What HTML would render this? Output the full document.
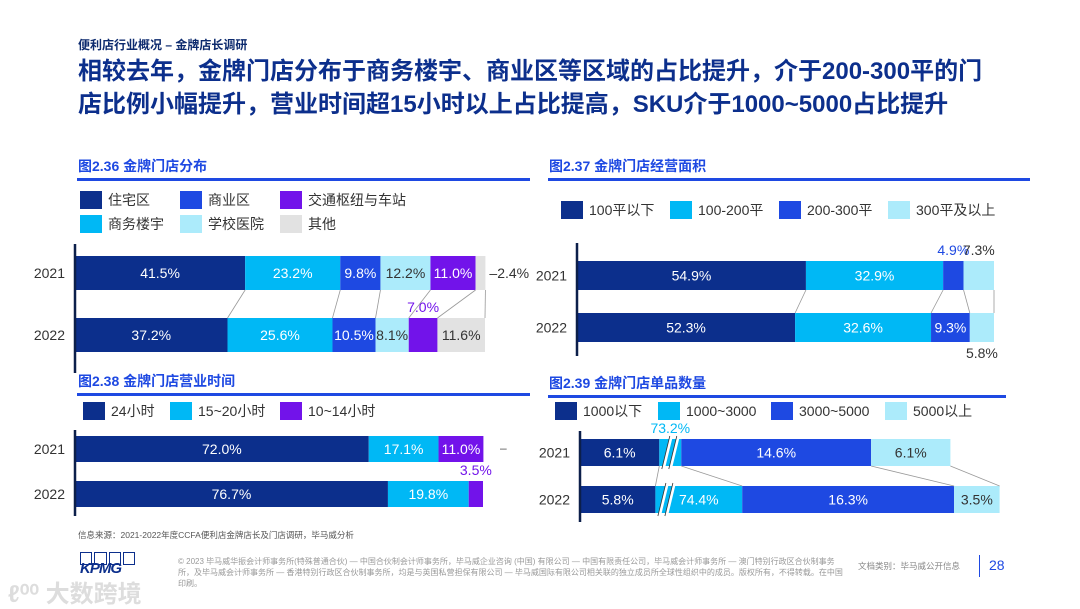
<!DOCTYPE html>
<html><head><meta charset="utf-8">
<style>
body{margin:0;width:1080px;height:608px;background:#fff;position:relative;overflow:hidden;font-family:"Liberation Sans","Noto Sans CJK SC",sans-serif;}
.abs{position:absolute;white-space:nowrap;}
</style></head>
<body>
<div class="abs" style="left:78px;top:36px;font-size:12px;font-weight:bold;color:#0c2a6e;">便利店行业概况 – 金牌店长调研</div>
<div class="abs" style="left:78px;top:55px;font-size:24px;font-weight:bold;color:#0c2f8c;line-height:33px;">相较去年，金牌门店分布于商务楼宇、商业区等区域的占比提升，介于200-300平的门<br>店比例小幅提升，营业时间超15小时以上占比提高，SKU介于1000~5000占比提升</div>
<svg id="svg" class="abs" style="left:0;top:0" width="1080" height="608" font-family="Liberation Sans, Noto Sans CJK SC, sans-serif"></svg>
<div class="abs" style="left:78px;top:529px;font-size:8.5px;color:#555;">信息来源：2021-2022年度CCFA便利店金牌店长及门店调研，毕马威分析</div>
<div class="abs" style="left:80px;top:552px;width:55px;height:28px;">
<div style="display:flex;gap:2px"><div style="width:11px;height:11px;border:1.5px solid #0c2f8c"></div><div style="width:11px;height:11px;border:1.5px solid #0c2f8c"></div><div style="width:11px;height:11px;border:1.5px solid #0c2f8c"></div><div style="width:11px;height:11px;border:1.5px solid #0c2f8c"></div></div>
<div style="font-size:15px;font-weight:bold;font-style:italic;color:#0c2f8c;margin-top:-5px;letter-spacing:-1px">KPMG</div></div>
<div class="abs" style="left:8px;top:574px;font-size:24px;font-weight:bold;color:#ddd;">ℓ⁰⁰ 大数跨境</div>
<div class="abs" style="left:178px;top:556px;font-size:8px;color:#999;line-height:11px;white-space:normal;width:665px;">© 2023 毕马威华振会计师事务所(特殊普通合伙) — 中国合伙制会计师事务所，毕马威企业咨询 (中国) 有限公司 — 中国有限责任公司，毕马威会计师事务所 — 澳门特别行政区合伙制事务所，及毕马威会计师事务所 — 香港特别行政区合伙制事务所，均是与英国私营担保有限公司 — 毕马威国际有限公司相关联的独立成员所全球性组织中的成员。版权所有，不得转载。在中国印刷。</div>
<div class="abs" style="left:858px;top:560px;font-size:8.5px;color:#888;">文档类别：毕马威公开信息</div>
<div class="abs" style="left:979px;top:555px;width:1px;height:22px;background:#1e49e2;"></div>
<div class="abs" style="left:989px;top:557px;font-size:14px;color:#1e49e2;">28</div>
<script>
// ---- data ----
const years = ['2021','2022'];
// chart 2.36
const c1Names = ['住宅区','商务楼宇','商业区','学校医院','交通枢纽与车站','其他'];
const c1Resid = [41.5,37.2];
const c1Office = [23.2,25.6];
const c1Commerce = [9.8,10.5];
const c1School = [12.2,8.1];
const c1Transit = [11.0,7.0];
const c1Other = [2.4,11.6];
// chart 2.37
const c2Names = ['100平以下','100-200平','200-300平','300平及以上'];
const c2A = [54.9,52.3];
const c2B = [32.9,32.6];
const c2C = [4.9,9.3];
const c2D = [7.3,5.8];
// chart 2.38
const c3Names = ['24小时','15~20小时','10~14小时'];
const c3A = [72.0,76.7];
const c3B = [17.1,19.8];
const c3C = [11.0,3.5];
// chart 2.39
const c4Names = ['1000以下','1000~3000','3000~5000','5000以上'];
const c4A = [6.1,5.8];
const c4B = [73.2,74.4];
const c4C = [14.6,16.3];
const c4D = [6.1,3.5];

const NAVY='#0c2f8c',BLUE='#1e49e2',PURP='#7213ea',CYAN='#00b8f5',LIGHT='#acebfb',GRAY='#e2e2e2';
const svg=document.getElementById('svg');
const NS='http://www.w3.org/2000/svg';
function mk(tag,attrs,parent){const e=document.createElementNS(NS,tag);for(const k in attrs)e.setAttribute(k,attrs[k]);(parent||svg).appendChild(e);return e;}
function txt(x,y,s,size,fill,anchor,weight){const t=mk('text',{x:x,y:y,'font-size':size,fill:fill,'text-anchor':anchor||'start','dominant-baseline':'central'});if(weight)t.setAttribute('font-weight',weight);t.textContent=s;return t;}

function header(x,y,x2,title,name){
  const t=txt(x,y,title,14,BLUE,'start','bold');
  
  
  const l=mk('rect',{x:x-1,y:y+12,width:x2-x+1,height:3,fill:BLUE});
  
  
}
function legend(items,name){
  items.forEach(it=>{
    const g=mk('g',{});
    
    
    mk('rect',{x:it.x,y:it.y-9,width:22,height:18,fill:it.c},g);
    const t=txt(it.x+28,it.y,it.n,14,'#333');g.appendChild(t);
  });
}
function stacked(cfg){
  const series=cfg.series;
  const ends=[];
  years.forEach((yr,yi)=>{
    const yl=txt(cfg.x0-10,cfg.ys[yi]+cfg.h/2,yr,14,'#333','end');
    
    
    let x=cfg.x0;const e=[x];
    series.forEach((s,si)=>{
      const w=cfg.w(si,s.v[yi]);
      const r=mk('rect',{x:x,y:cfg.ys[yi],width:w,height:cfg.h,fill:s.c});
      
      
      const lab=s.v[yi].toFixed(1)+'%';
      const sp=(cfg.special||{})[yi+'-'+si];
      let t;
      if(sp==='above') t=txt(x+w/2,cfg.ys[yi]-11,lab,14,s.lc||'#333','middle');
      else if(sp==='below') t=txt(x+w/2,cfg.ys[yi]+cfg.h+11,lab,14,'#333','middle');
      else if(sp==='right') t=txt(x+w+4,cfg.ys[yi]+cfg.h/2,'–'+lab,14,'#333','start');
      else t=txt(x+w/2,cfg.ys[yi]+cfg.h/2,lab,14,s.tc,'middle');
      
      
      x+=w;e.push(x);
    });
    ends.push(e);
  });
  if(cfg.connect){
    for(let i=1;i<ends[0].length;i++){
      const ln=mk('line',{x1:ends[0][i],y1:cfg.ys[0]+cfg.h,x2:ends[1][i],y2:cfg.ys[1],stroke:'#999','stroke-width':0.8});
      
      
    }
  }
  const ax=mk('line',{x1:cfg.x0,y1:cfg.axis[0],x2:cfg.x0,y2:cfg.axis[1],stroke:'#0c1f4a','stroke-width':2.5});
  
  
  return ends;
}

// chart 2.36
header(78,166,530,'图2.36 金牌门店分布','store-location');
legend([{x:80,y:200,c:NAVY,n:c1Names[0],i:0},{x:180,y:200,c:BLUE,n:'商业区',i:1},{x:280,y:200,c:PURP,n:c1Names[4],i:2},
 {x:80,y:224,c:CYAN,n:c1Names[1],i:3},{x:180,y:224,c:LIGHT,n:c1Names[3],i:4},{x:280,y:224,c:GRAY,n:c1Names[5],i:5}],'store-location');
stacked({name:'store-location',x0:75,ys:[256,318],h:34,axis:[244,373],connect:true,
 w:(si,v)=>v*4.1,
 series:[{v:c1Resid,c:NAVY,tc:'#fff'},{v:c1Office,c:CYAN,tc:'#fff'},{v:c1Commerce,c:BLUE,tc:'#fff'},{v:c1School,c:LIGHT,tc:'#333'},{v:c1Transit,c:PURP,tc:'#fff',lc:PURP},{v:c1Other,c:GRAY,tc:'#333'}],
 special:{'0-5':'right','1-4':'above'}});

// chart 2.37
header(549,166,1030,'图2.37 金牌门店经营面积','store-area');
legend([{x:561,y:210,c:NAVY,n:c2Names[0],i:0},{x:670,y:210,c:CYAN,n:c2Names[1],i:1},{x:779,y:210,c:BLUE,n:c2Names[2],i:2},{x:888,y:210,c:LIGHT,n:c2Names[3],i:3}],'store-area');
stacked({name:'store-area',x0:577,ys:[261,313],h:29,axis:[243,356],connect:true,
 w:(si,v)=>v*4.17,
 series:[{v:c2A,c:NAVY,tc:'#fff'},{v:c2B,c:CYAN,tc:'#fff'},{v:c2C,c:BLUE,tc:'#fff',lc:BLUE},{v:c2D,c:LIGHT,tc:'#333'}],
 special:{'0-2':'above','0-3':'above','1-3':'below'}});

// chart 2.38
header(78,381,530,'图2.38 金牌门店营业时间','store-hours');
legend([{x:83,y:411,c:NAVY,n:c3Names[0],i:0},{x:170,y:411,c:CYAN,n:c3Names[1],i:1},{x:280,y:411,c:PURP,n:c3Names[2],i:2}],'store-hours');
stacked({name:'store-hours',x0:75,ys:[436,481],h:26,axis:[430,516],connect:false,
 w:(si,v)=>v*4.08,
 series:[{v:c3A,c:NAVY,tc:'#fff'},{v:c3B,c:CYAN,tc:'#fff'},{v:c3C,c:PURP,tc:'#fff',lc:PURP}],
 special:{'1-2':'above'}});
txt(500,448,'–',12,'#555','start');

// chart 2.39 (broken axis on the 1000~3000 segment)
header(549,383,1006,'图2.39 金牌门店单品数量','store-sku');
legend([{x:555,y:411,c:NAVY,n:c4Names[0],i:0},{x:658,y:411,c:CYAN,n:c4Names[1],i:1},{x:771,y:411,c:BLUE,n:c4Names[2],i:2},{x:885,y:411,c:LIGHT,n:c4Names[3],i:3}],'store-sku');
const e4=stacked({name:'store-sku',x0:580,ys:[439,486],h:27,axis:[431,522],connect:true,
 w:(si,v)=>si===1?Math.max(20,22+(v-73.2)*54):v*13.0,
 series:[{v:c4A,c:NAVY,tc:'#fff'},{v:c4B,c:CYAN,tc:'#fff',lc:CYAN},{v:c4C,c:BLUE,tc:'#fff'},{v:c4D,c:LIGHT,tc:'#333'}],
 special:{'0-1':'above'}});
[0,1].forEach(yi=>{
  const y=[439,486][yi];const bx=e4[yi][1]+4;
  [0,7].forEach(d=>{
    const l=mk('line',{x1:bx+d,y1:y+30,x2:bx+d+8,y2:y-3,stroke:'#fff','stroke-width':3});
    
    
    mk('line',{x1:bx+d-1.5,y1:y+30,x2:bx+d+6.5,y2:y-3,stroke:'#333','stroke-width':0.8});
  });
});
</script>
</body></html>
